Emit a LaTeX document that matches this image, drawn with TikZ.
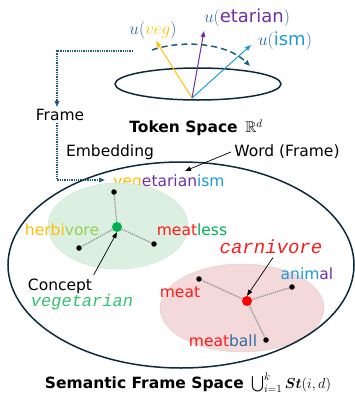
\documentclass[tikz,border=0pt]{standalone}
\usepackage{amssymb,bm}
\usepackage{fontspec}
\setmainfont{DejaVu Sans}
\newfontfamily\monofont{Liberation Mono}
\usetikzlibrary{arrows.meta}
\definecolor{vegyellow}{HTML}{FFC000}
\definecolor{etapurple}{HTML}{7030A0}
\definecolor{ismblue}{HTML}{1E9ADB}
\definecolor{ublue}{HTML}{2F6CA3}
\definecolor{spacenavy}{HTML}{0E2A3A}
\definecolor{arcteal}{HTML}{1F5C7A}
\definecolor{meatred}{HTML}{FF1A1A}
\definecolor{lessgreen}{HTML}{00B050}
\definecolor{voregreen}{HTML}{92D050}
\definecolor{conceptgreen}{HTML}{33C070}
\definecolor{greenfill}{HTML}{DCF0E2}
\definecolor{greenline}{HTML}{C8E4D0}
\definecolor{redfill}{HTML}{F3D9D9}
\definecolor{redline}{HTML}{E9C9C9}
\definecolor{spokegray}{HTML}{8C8C8C}
\begin{document}
\begin{tikzpicture}[x=1pt,y=-1pt,font=\fontsize{15.5}{18}\selectfont,
    dot/.style={circle,fill=black,inner sep=0pt,minimum size=5.5pt},
    hub/.style={circle,inner sep=0pt,minimum size=10pt},
    spoke/.style={densely dotted,spokegray,line width=1.2pt},
    tip/.style={-{Triangle[length=6pt,width=4.5pt]}},
    pointer/.style={tip,line width=0.7pt},
    vec/.style={tip,line width=1pt},
    space/.style={spacenavy,line width=1.5pt},
    frameline/.style={tip,arcteal,densely dotted,line width=1.3pt},
    ulabel/.style={text=ublue,font=\fontsize{18}{20}\selectfont},
    mono/.style={font=\monofont\itshape\fontsize{17}{20}\selectfont}]
    \useasboundingbox (0,0) rectangle (355,394);
    % token space
    \draw[space] (198,84) ellipse (83 and 16);
    \coordinate (o) at (192,98);
    \coordinate (vegtip) at (156,41);
    \coordinate (etatip) at (204,31);
    \coordinate (ismtip) at (251,45);
    \draw[vec,vegyellow] (o) -- (vegtip);
    \draw[vec,etapurple] (o) -- (etatip);
    \draw[vec,ismblue] (o) -- (ismtip);
    \node[ulabel] (uveg) at (153,30) {$u(\textcolor{vegyellow}{veg})$};
    \node[ulabel] (ueta) at (247,18) {$u($\textcolor{etapurple}{etarian}$)$};
    \node[ulabel] (uism) at (285,41) {$u($\textcolor{ismblue}{ism}$)$};
    \coordinate (arcstart) at (152,50);
    \coordinate (arcend) at (250,66);
    \draw[tip,arcteal,dashed,dash pattern=on 6pt off 4pt,line width=1.5pt]
        (arcstart) .. controls (180,40) and (226,42) .. (arcend);
    \node (tok) at (196,128) {\textbf{Token Space}\, $\mathbb{R}^d$};

    % frame embedding
    \coordinate (fs) at (133,51);
    \node[inner sep=2pt] (frame) at (60,115) {Frame};
    \node (emb) at (110,152) {Embedding};
    \node (word) at (169,182) {\textcolor{vegyellow}{veg}\textcolor{etapurple}{etarian}\textcolor{ismblue}{ism}};
    \coordinate (wordin) at (105,180);
    \draw[frameline] (fs) -| ([xshift=-3pt]frame.north);
    \draw[frameline] ([xshift=-3pt]frame.south) |- (wordin);

    % semantic frame space
    \draw[fill=greenfill,draw=greenline] (118,226) ellipse (70 and 43);
    \draw[fill=redfill,draw=redline] (242,308) ellipse (82 and 44);
    \draw[space] (181,265) ellipse (173 and 103);
    \node (wf) at (287,152) {Word (Frame)};
    \draw[pointer] (wf.west) -- ([xshift=16pt]word.north);

    \node[hub,fill=lessgreen] (veghub) at (117,227) {};
    \node[dot] (d1) at (114,192) {};
    \node[dot] (d2) at (79,248) {};
    \node[dot] (d3) at (154,244) {};
    \foreach \d in {d1,d2,d3}
        \draw[spoke] (veghub) -- (\d);
    \node (herb) at (62,230) {\textcolor{vegyellow}{herbi}\textcolor{voregreen}{vore}};
    \node (mless) at (192,230) {\textcolor{meatred}{meat}\textcolor{lessgreen}{less}};
    \node (concept) at (60,286) {Concept};
    \node[mono,text=conceptgreen] (vegtt) at (82,302) {vegetarian};
    \draw[pointer] ([xshift=-2pt]concept.north east) -- (veghub.south);

    \node[hub,fill=red] (carnhub) at (247,301) {};
    \node[dot] (mdot) at (199,279) {};
    \node[dot] (adot) at (292,287) {};
    \node[dot] (bdot) at (266,340) {};
    \foreach \d in {mdot,adot,bdot}
        \draw[spoke] (carnhub) -- (\d);
    \node[mono,text=meatred,font=\monofont\itshape\fontsize{19}{20}\selectfont] (carn) at (271,247) {carnivore};
    \draw[pointer] ([xshift=2pt]carn.south) -- (carnhub.north);
    \node (anim) at (307,274) {\textcolor{ismblue}{anim}\textcolor{etapurple}{al}};
    \node[text=meatred] (meat) at (180,292) {meat};
    \node (ball) at (223,341) {\textcolor{meatred}{meat}\textcolor{ublue}{ball}};

    \node (sfs) at (188,383) {\textbf{Semantic Frame Space}\, $\bigcup_{i=1}^{k}\bm{St}(i,d)$};
\end{tikzpicture}
\end{document}
